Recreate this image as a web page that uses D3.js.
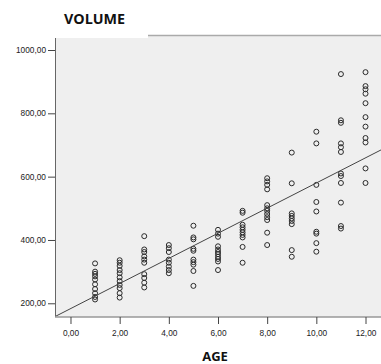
<!DOCTYPE html>
<html>
<head>
<meta charset="utf-8">
<script src="https://cdn.jsdelivr.net/npm/d3@7"></script>
<style>
  body { margin: 0; background: #fff; }
  svg { display: block; }
</style>
</head>
<body>
<svg id="chart"></svg>
<script>
// ages (x) and the volumes observed at each age
var ages = [1, 2, 3, 4, 5, 6, 7, 8, 9, 10, 11, 12];
var volumes = [
  [326, 300, 293, 285, 275, 260, 245, 232, 220, 212],
  [336, 328, 318, 305, 295, 282, 270, 258, 248, 232, 218],
  [412, 370, 362, 348, 338, 328, 292, 280, 265, 250],
  [384, 374, 362, 338, 328, 316, 305, 295],
  [445, 408, 402, 372, 366, 338, 330, 322, 302, 255],
  [432, 420, 410, 380, 370, 362, 355, 347, 340, 332, 305],
  [492, 486, 448, 440, 432, 424, 416, 408, 378, 328],
  [595, 585, 574, 560, 510, 500, 492, 482, 472, 463, 423, 384],
  [676, 579, 484, 476, 468, 460, 450, 368, 347],
  [742, 705, 574, 520, 490, 426, 420, 390, 363],
  [924, 778, 770, 705, 693, 678, 610, 602, 580, 518, 444, 436],
  [930, 886, 876, 862, 832, 788, 758, 722, 708, 626, 580]
];
var xTicks = [0, 2, 4, 6, 8, 10, 12];
var yTicks = [200, 400, 600, 800, 1000];
// fit line: intercept, slope
var fitLine = [183, 39.7];

var width = 381, height = 364;
var plotL = 55, plotR = 381, plotT = 35, plotB = 317;

var svg = d3.select("#chart")
  .attr("width", width)
  .attr("height", height);

var x = d3.scaleLinear().domain([-0.63, 12.63]).range([plotL, plotR]);
var y = d3.scaleLinear().domain([156.7, 1047.4]).range([plotB, plotT]);

var fmt = d3.formatLocale({decimal: ",", thousands: ".", grouping: [3], currency: ["", ""]}).format(".2f");

// plot background
svg.append("rect")
  .attr("x", plotL).attr("y", plotT)
  .attr("width", plotR - plotL).attr("height", plotB - plotT)
  .attr("fill", "#efefef");

// top border
svg.append("line")
  .attr("x1", plotL).attr("x2", plotR)
  .attr("y1", plotT + 0.5).attr("y2", plotT + 0.5)
  .attr("stroke", "#aaa").attr("stroke-width", 1.5);

// title box hides part of the top border
svg.append("rect")
  .attr("x", 0).attr("y", 0)
  .attr("width", 148).attr("height", 38)
  .attr("fill", "#fff");

svg.append("text")
  .attr("x", 64).attr("y", 24)
  .attr("font-family", "Open Sans, sans-serif")
  .attr("font-weight", "bold")
  .attr("font-size", 14.3)
  .attr("fill", "#111")
  .text("VOLUME");

// points
var pts = [];
ages.forEach(function(a, i) {
  volumes[i].forEach(function(v) { pts.push({age: a, vol: v}); });
});

svg.append("g")
  .selectAll("circle")
  .data(pts)
  .join("circle")
    .attr("cx", function(d) { return x(d.age); })
    .attr("cy", function(d) { return y(d.vol); })
    .attr("r", 2.5)
    .attr("fill", "none")
    .attr("stroke", "#2a2a2a")
    .attr("stroke-width", 1);

// fit line
var x0 = x.domain()[0], x1 = x.domain()[1];
svg.append("line")
  .attr("x1", x(x0)).attr("y1", y(fitLine[0] + fitLine[1] * x0))
  .attr("x2", x(x1)).attr("y2", y(fitLine[0] + fitLine[1] * x1))
  .attr("stroke", "#444")
  .attr("stroke-width", 1);

// Y axis
var yAxis = svg.append("g")
  .attr("transform", "translate(" + plotL + ",0)")
  .call(d3.axisLeft(y).tickValues(yTicks).tickFormat(fmt).tickSize(7).tickPadding(2));
yAxis.select(".domain").attr("stroke", "#666").attr("d", "M0.5," + (plotT + 3) + "V" + plotB);
yAxis.selectAll(".tick line").attr("stroke", "#444");
yAxis.selectAll("text")
  .attr("font-family", "Liberation Sans, Arial, sans-serif")
  .attr("font-size", 8.3)
  .attr("fill", "#222");

// X axis
var xAxis = svg.append("g")
  .attr("transform", "translate(0," + plotB + ")")
  .call(d3.axisBottom(x).tickValues(xTicks).tickFormat(fmt).tickSize(7).tickPadding(6));
xAxis.select(".domain").attr("stroke", "#999").attr("stroke-width", 1.5)
  .attr("d", "M" + plotL + ",0H" + plotR);
xAxis.selectAll(".tick line").attr("stroke", "#444");
xAxis.selectAll("text")
  .attr("font-family", "Liberation Sans, Arial, sans-serif")
  .attr("font-size", 8.3)
  .attr("fill", "#222");

svg.append("text")
  .attr("x", 215).attr("y", 361)
  .attr("text-anchor", "middle")
  .attr("font-family", "Open Sans, sans-serif")
  .attr("font-weight", "bold")
  .attr("font-size", 13)
  .attr("fill", "#111")
  .text("AGE");
</script>
</body>
</html>
